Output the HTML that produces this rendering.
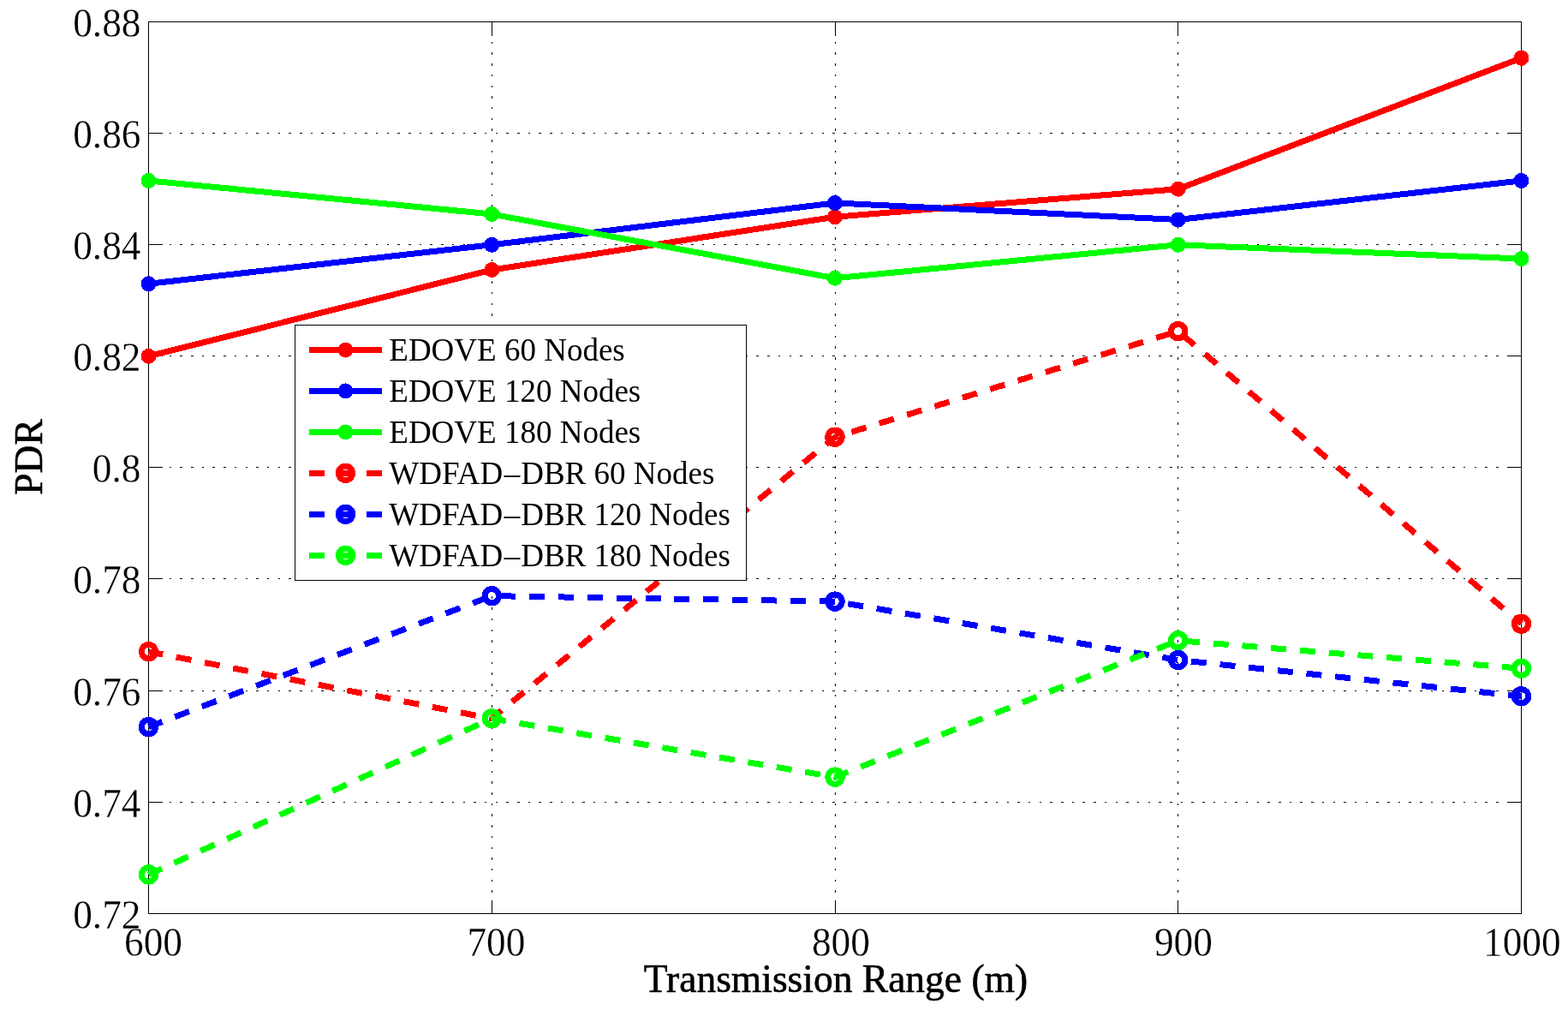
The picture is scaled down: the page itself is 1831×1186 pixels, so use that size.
<!DOCTYPE html><html><head><meta charset="utf-8"><title>PDR vs Transmission Range</title><style>html,body{margin:0;padding:0;background:#fff;width:1831px;height:1186px;overflow:hidden}svg{display:block}text{font-family:"Liberation Serif","Times New Roman",serif;fill:#000}text.tk{stroke:#fff;stroke-width:0.3px}text.lab{stroke:#000;stroke-width:0.6px}</style></head><body>
<svg width="1831" height="1186" viewBox="0 0 1831 1186" shape-rendering="crispEdges">
<rect x="0" y="0" width="1831" height="1186" fill="#fff"/>
<path d="M574.50 25.50V1066.50M975.50 25.50V1066.50M1375.50 25.50V1066.50" stroke="#000" stroke-width="1" fill="none" stroke-dasharray="2.5 10.2" stroke-dashoffset="2.15"/>
<path d="M173.50 936.50H1776.50M173.50 806.50H1776.50M173.50 675.50H1776.50M173.50 545.50H1776.50M173.50 415.50H1776.50M173.50 285.50H1776.50M173.50 155.50H1776.50" stroke="#000" stroke-width="1" fill="none" stroke-dasharray="2.5 10.2" stroke-dashoffset="1.25"/>
<path d="M173.50 1066.50v-16M173.50 25.50v16M574.50 1066.50v-16M574.50 25.50v16M975.50 1066.50v-16M975.50 25.50v16M1375.50 1066.50v-16M1375.50 25.50v16M1776.50 1066.50v-16M1776.50 25.50v16M173.50 1066.50h16M1776.50 1066.50h-16M173.50 936.50h16M1776.50 936.50h-16M173.50 806.50h16M1776.50 806.50h-16M173.50 675.50h16M1776.50 675.50h-16M173.50 545.50h16M1776.50 545.50h-16M173.50 415.50h16M1776.50 415.50h-16M173.50 285.50h16M1776.50 285.50h-16M173.50 155.50h16M1776.50 155.50h-16M173.50 25.50h16M1776.50 25.50h-16" stroke="#000" stroke-width="1" fill="none"/>
<rect x="173.5" y="25.5" width="1603.0" height="1041.0" stroke="#000" stroke-width="1" fill="none"/>
<path d="M173.50 415.88 L574.25 315.03 L975.00 253.22 L1375.75 220.69 L1776.50 67.79" stroke="#ff0000" stroke-width="7" fill="none" stroke-linejoin="miter"/>
<circle cx="173.50" cy="415.88" r="9" fill="#ff0000"/>
<circle cx="574.25" cy="315.03" r="9" fill="#ff0000"/>
<circle cx="975.00" cy="253.22" r="9" fill="#ff0000"/>
<circle cx="1375.75" cy="220.69" r="9" fill="#ff0000"/>
<circle cx="1776.50" cy="67.79" r="9" fill="#ff0000"/>
<path d="M173.50 331.29 L574.25 285.75 L975.00 236.95 L1375.75 256.47 L1776.50 210.93" stroke="#0000ff" stroke-width="7" fill="none" stroke-linejoin="miter"/>
<circle cx="173.50" cy="331.29" r="9" fill="#0000ff"/>
<circle cx="574.25" cy="285.75" r="9" fill="#0000ff"/>
<circle cx="975.00" cy="236.95" r="9" fill="#0000ff"/>
<circle cx="1375.75" cy="256.47" r="9" fill="#0000ff"/>
<circle cx="1776.50" cy="210.93" r="9" fill="#0000ff"/>
<path d="M173.50 210.93 L574.25 249.97 L975.00 324.79 L1375.75 285.75 L1776.50 302.02" stroke="#00ff00" stroke-width="7" fill="none" stroke-linejoin="miter"/>
<circle cx="173.50" cy="210.93" r="9" fill="#00ff00"/>
<circle cx="574.25" cy="249.97" r="9" fill="#00ff00"/>
<circle cx="975.00" cy="324.79" r="9" fill="#00ff00"/>
<circle cx="1375.75" cy="285.75" r="9" fill="#00ff00"/>
<circle cx="1776.50" cy="302.02" r="9" fill="#00ff00"/>
<path d="M173.50 760.71 L574.25 838.78 L975.00 510.22 L1375.75 386.60 L1776.50 728.17" stroke="#ff0000" stroke-width="7" fill="none" stroke-linejoin="miter" stroke-dasharray="18 15.85" stroke-dashoffset="1.0"/>
<circle cx="173.50" cy="760.71" r="8.2" stroke="#ff0000" stroke-width="7" fill="none"/>
<circle cx="574.25" cy="838.78" r="8.2" stroke="#ff0000" stroke-width="7" fill="none"/>
<circle cx="975.00" cy="510.22" r="8.2" stroke="#ff0000" stroke-width="7" fill="none"/>
<circle cx="1375.75" cy="386.60" r="8.2" stroke="#ff0000" stroke-width="7" fill="none"/>
<circle cx="1776.50" cy="728.17" r="8.2" stroke="#ff0000" stroke-width="7" fill="none"/>
<path d="M173.50 848.54 L574.25 695.64 L975.00 702.15 L1375.75 770.47 L1776.50 812.76" stroke="#0000ff" stroke-width="7" fill="none" stroke-linejoin="miter" stroke-dasharray="18 15.85" stroke-dashoffset="1.0"/>
<circle cx="173.50" cy="848.54" r="8.2" stroke="#0000ff" stroke-width="7" fill="none"/>
<circle cx="574.25" cy="695.64" r="8.2" stroke="#0000ff" stroke-width="7" fill="none"/>
<circle cx="975.00" cy="702.15" r="8.2" stroke="#0000ff" stroke-width="7" fill="none"/>
<circle cx="1375.75" cy="770.47" r="8.2" stroke="#0000ff" stroke-width="7" fill="none"/>
<circle cx="1776.50" cy="812.76" r="8.2" stroke="#0000ff" stroke-width="7" fill="none"/>
<path d="M173.50 1020.96 L574.25 838.78 L975.00 907.10 L1375.75 747.69 L1776.50 780.23" stroke="#00ff00" stroke-width="7" fill="none" stroke-linejoin="miter" stroke-dasharray="18 15.85" stroke-dashoffset="1.0"/>
<circle cx="173.50" cy="1020.96" r="8.2" stroke="#00ff00" stroke-width="7" fill="none"/>
<circle cx="574.25" cy="838.78" r="8.2" stroke="#00ff00" stroke-width="7" fill="none"/>
<circle cx="975.00" cy="907.10" r="8.2" stroke="#00ff00" stroke-width="7" fill="none"/>
<circle cx="1375.75" cy="747.69" r="8.2" stroke="#00ff00" stroke-width="7" fill="none"/>
<circle cx="1776.50" cy="780.23" r="8.2" stroke="#00ff00" stroke-width="7" fill="none"/>
<rect x="344.5" y="379.5" width="527.0" height="298.0" fill="#fff" stroke="#000" stroke-width="1"/>
<path d="M361 408.50H446" stroke="#ff0000" stroke-width="7"/>
<circle cx="403.5" cy="408.50" r="9" fill="#ff0000"/>
<text x="454.3" y="421.00" font-size="37">EDOVE 60 Nodes</text>
<path d="M361 456.48H446" stroke="#0000ff" stroke-width="7"/>
<circle cx="403.5" cy="456.48" r="9" fill="#0000ff"/>
<text x="454.3" y="468.98" font-size="37">EDOVE 120 Nodes</text>
<path d="M361 504.46H446" stroke="#00ff00" stroke-width="7"/>
<circle cx="403.5" cy="504.46" r="9" fill="#00ff00"/>
<text x="454.3" y="516.96" font-size="37">EDOVE 180 Nodes</text>
<path d="M361 552.44H446" stroke="#ff0000" stroke-width="7" stroke-dasharray="18 15.5"/>
<circle cx="403.5" cy="552.44" r="8.2" stroke="#ff0000" stroke-width="7" fill="none"/>
<text x="454.3" y="564.94" font-size="37">WDFAD<tspan dx="1.5">–</tspan><tspan dx="1">DBR 60 Nodes</tspan></text>
<path d="M361 600.42H446" stroke="#0000ff" stroke-width="7" stroke-dasharray="18 15.5"/>
<circle cx="403.5" cy="600.42" r="8.2" stroke="#0000ff" stroke-width="7" fill="none"/>
<text x="454.3" y="612.92" font-size="37">WDFAD<tspan dx="1.5">–</tspan><tspan dx="1">DBR 120 Nodes</tspan></text>
<path d="M361 648.40H446" stroke="#00ff00" stroke-width="7" stroke-dasharray="18 15.5"/>
<circle cx="403.5" cy="648.40" r="8.2" stroke="#00ff00" stroke-width="7" fill="none"/>
<text x="454.3" y="660.90" font-size="37">WDFAD<tspan dx="1.5">–</tspan><tspan dx="1">DBR 180 Nodes</tspan></text>
<text class="tk" transform="translate(179.00 1115.5) scale(0.945 1)" font-size="48" text-anchor="middle">600</text>
<text class="tk" transform="translate(579.40 1115.5) scale(0.945 1)" font-size="48" text-anchor="middle">700</text>
<text class="tk" transform="translate(981.90 1115.5) scale(0.945 1)" font-size="48" text-anchor="middle">800</text>
<text class="tk" transform="translate(1381.90 1115.5) scale(0.945 1)" font-size="48" text-anchor="middle">900</text>
<text class="tk" transform="translate(1777.30 1115.5) scale(0.945 1)" font-size="48" text-anchor="middle">1000</text>
<text class="tk" transform="translate(164.50 1084) scale(0.945 1)" font-size="48" text-anchor="end">0.72</text>
<text class="tk" transform="translate(164.50 954) scale(0.945 1)" font-size="48" text-anchor="end">0.74</text>
<text class="tk" transform="translate(164.50 824) scale(0.945 1)" font-size="48" text-anchor="end">0.76</text>
<text class="tk" transform="translate(164.50 693) scale(0.945 1)" font-size="48" text-anchor="end">0.78</text>
<text class="tk" transform="translate(164.50 563) scale(0.945 1)" font-size="48" text-anchor="end">0.8</text>
<text class="tk" transform="translate(164.50 433) scale(0.945 1)" font-size="48" text-anchor="end">0.82</text>
<text class="tk" transform="translate(164.50 303) scale(0.945 1)" font-size="48" text-anchor="end">0.84</text>
<text class="tk" transform="translate(164.50 173) scale(0.945 1)" font-size="48" text-anchor="end">0.86</text>
<text class="tk" transform="translate(164.50 43) scale(0.945 1)" font-size="48" text-anchor="end">0.88</text>
<text class="lab" x="976" y="1157.7" font-size="45.5" text-anchor="middle">Transmission Range (m)</text>
<text class="lab" transform="translate(48.6 533.5) rotate(-90)" x="0" y="0" font-size="45.5" text-anchor="middle">PDR</text>
</svg></body></html>
